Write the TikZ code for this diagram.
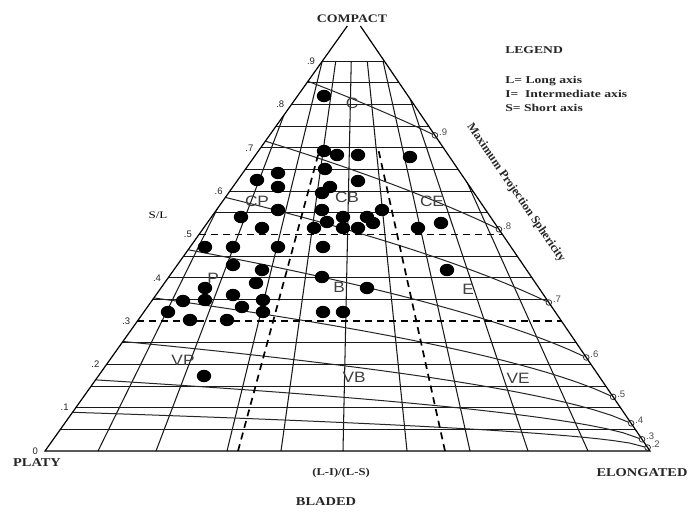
\documentclass[tikz,border=0pt]{standalone}
\usepackage{fontspec}
\setmainfont{Liberation Serif}
\newfontfamily\arialf{Liberation Sans}
\begin{document}
\begin{tikzpicture}[x=1pt,y=-1pt,
  declare function={
    sph(\qa,\qb)=(\qa^3*\qb+sqrt(\qa^6*\qb^2+4*\qa^3*(1-\qb)))/2;
    lx(\sv)=45+308*\sv;
    rx(\sv)=650-295*\sv;
    yy(\sv)=451-433*\sv;
  },
  gridl/.style={line width=1.05pt, black!90},
  sidel/.style={line width=1.2pt, black},
  dashl/.style={line width=1.7pt, black, dash pattern=on 7pt off 5pt},
  sphl/.style={line width=1pt, black!85},
  endc/.style={line width=0.8pt, draw=black!80, fill=white},
  dot/.style={fill=black},
  bl/.style={font=\bfseries\fontsize{12}{14}\selectfont, text=black!85, inner sep=0pt, xscale=1.2},
  leg/.style={font=\bfseries\fontsize{10.5}{12}\selectfont, text=black!85, inner sep=0pt, xscale=1.3, anchor=west},
  cls/.style={font=\arialf\fontsize{15}{16}\selectfont, text=black!75, inner sep=0pt, xscale=1.15},
  num/.style={font=\arialf\fontsize{9.5}{10}\selectfont, text=black!85, inner sep=0pt},
  snum/.style={font=\arialf\fontsize{9.5}{10}\selectfont, text=black!70, inner sep=0pt},
]
\useasboundingbox (0,0) rectangle (692,511);
\fill[white] (0,0) rectangle (692,511);

\coordinate (P) at (45,451);
\coordinate (E) at (650,451);
\coordinate (LT) at (347.3,26);
\coordinate (RT) at (360.4,26);
\coordinate (F) at (354,-69);

% radial grid lines
\begin{scope}
  \clip (P) -- ({lx(0.9)},{yy(0.9)}) -- ({rx(0.9)},{yy(0.9)}) -- (E) -- cycle;
  \foreach \b in {98,156,227,281,343,407,470,528,588}
    \draw[gridl] (\b,451) -- (F);
\end{scope}

% horizontal grid lines
\foreach \k in {1,2,3,4,5,7,8,9,11,12,13,14,15,16,17,18}
  \draw[gridl] ({lx(\k/20)},{yy(\k/20)}) -- ({rx(\k/20)},{yy(\k/20)});

% sphericity curves
\foreach \psv/\lab [count=\i] in {0.9/.9,0.8/.8,0.7/.7,0.6/.6,0.5/.5,0.4/.4,0.3/.3,0.2/.2}{
  \draw[sphl] plot[domain=0:1,samples=41,variable=\rr]
    ({lx(sph(\psv,\rr))+\rr*(rx(sph(\psv,\rr))-lx(sph(\psv,\rr)))},{yy(sph(\psv,\rr))});
  \pgfmathsetmacro\se{\psv^3}
  \draw[endc] ({rx(\se)},{yy(\se)}) circle (2.8);
  \node[snum, anchor=west] (sl\i) at ({rx(\se)+4},{yy(\se)-3}) {\lab};
}

% dashed class boundaries
\draw[dashl] ({lx(0.5)},{yy(0.5)}) -- ({rx(0.5)},{yy(0.5)});
\draw[dashl] ({lx(0.3)},{yy(0.3)}) -- ({rx(0.3)},{yy(0.3)});
\draw[dashl] (238,451) -- (320,{yy(0.7)});
\draw[dashl] (445,451) -- (378,{yy(0.7)});

% triangle sides
\draw[sidel] (LT) -- (P) -- (E) -- (RT);

% data points
\foreach \x/\y in {324/96,324/151,337/155,358/155,410/157,325/169,257/180,278/173,278/187,
  358/181,330/187,322/193,278/210,241/217,322/210,382/210,343/217,367/217,373/223,327/222,
  314/228,262/228,343/228,358/228,418/228,441/223,205/247,233/247,278/247,323/247,447/270,
  233/265,262/270,322/277,256/283,205/288,367/288,183/301,205/300,233/295,242/307,263/300,
  263/312,168/312,190/320,227/320,323/312,343/312,204/376}
  \fill[dot] (\x,\y) ellipse [x radius=7.2, y radius=6.2];

% left axis numbers
\foreach \s/\t [count=\j] in {0.9/.9,0.8/.8,0.7/.7,0.6/.6,0.5/.5,0.4/.4,0.3/.3,0.2/.2,0.1/.1,0/0}
  \node[num, anchor=east] (ax\j) at ({lx(\s)-7},{yy(\s)}) {\t};

% class labels
\node[cls] (cC)  at (352,103) {C};
\node[cls] (cCP) at (257,201) {CP};
\node[cls] (cCB) at (347,197) {CB};
\node[cls] (cCE) at (432,201) {CE};
\node[cls] (cP)  at (213,278) {P};
\node[cls] (cB)  at (339,287) {B};
\node[cls] (cE)  at (468,289) {E};
\node[cls] (cVP) at (183,360) {VP};
\node[cls] (cVB) at (354,377) {VB};
\node[cls] (cVE) at (518,378) {VE};

% titles
\node[bl, font=\bfseries\fontsize{11.5}{13}\selectfont] (compact) at (352,19) {COMPACT};
\node[bl] (platy) at (37,463) {PLATY};
\node[bl] (elong) at (642,473) {ELONGATED};
\node[bl] (blad) at (326,502) {BLADED};
\node[bl, font=\bfseries\fontsize{10.5}{12}\selectfont] (ratio) at (341,473) {(L-I)/(L-S)};
\node[inner sep=0pt, font=\fontsize{10}{12}\selectfont, xscale=1.3] (sl) at (158,215) {S/L};
\node[inner sep=0pt, font=\bfseries\fontsize{12}{13}\selectfont, text=black!85, rotate=-55.5] (msp) at (516,193) {Maximum Projection Sphericity};

% legend
\node[leg] (legh) at (505,50) {LEGEND};
\node[leg] (leg1) at (505,81) {L= Long axis};
\node[leg] (leg2) at (505,94) {I=\ \ Intermediate axis};
\node[leg] (leg3) at (505,108) {S= Short axis};
\end{tikzpicture}
\end{document}
